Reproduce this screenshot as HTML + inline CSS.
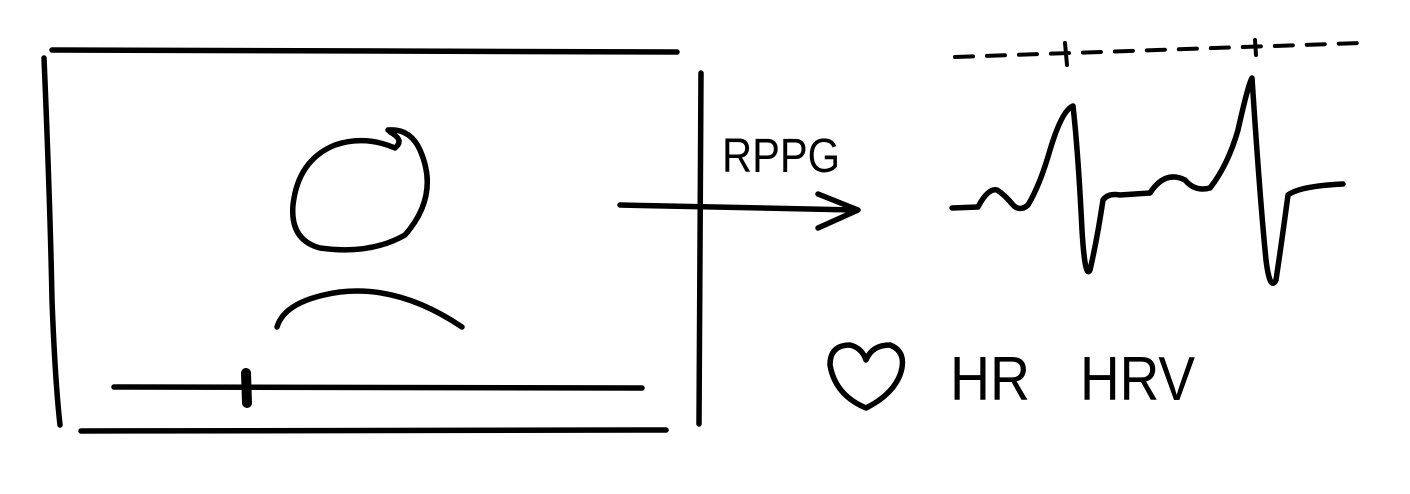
<!DOCTYPE html>
<html><head><meta charset="utf-8"><style>
html,body{margin:0;padding:0;background:#fff;width:1410px;height:494px;overflow:hidden}
svg{display:block}
text{font-family:"Liberation Sans",sans-serif;fill:#000}
</style></head><body>
<svg width="1410" height="494" viewBox="0 0 1410 494">
<g fill="none" stroke="#000" stroke-width="5.5" stroke-linecap="round" stroke-linejoin="round">
  <g>
    <path d="M52 50 L677 52"/>
    <path d="M44 58 Q50 200 52 300 Q55 380 60 425"/>
    <path d="M81 431 L666 430"/>
  </g>
  <path d="M701 73 L699 424"/>
  <g>
    <path d="M114 387 L642 388"/>
    <path d="M246 373 L247 403" stroke-width="10"/>
  </g>
  <g>
    <path d="M388 130 Q410 128 420 150 Q440 195 405 235 Q370 255 320 248 Q290 240 293 205 Q298 160 335 145 Q365 135 395 148 Q405 140 390 132"/>
    <path d="M277 327 Q285 300 340 292 Q400 285 462 327"/>
  </g>
  <g>
    <path d="M620 205 L855 210"/>
    <path d="M818 194 L858 210 L818 228"/>
  </g>
  <g stroke-width="4">
    <path d="M955 57 L1360 43" stroke-dasharray="18 14"/>
    <path d="M1065 43 L1067 65"/>
    <path d="M1255 40 L1256 55"/>
  </g>
  <path d="M952 208 L978 207 Q988 188 997 190 Q1005 195 1013 205 Q1020 212 1028 205 Q1040 185 1050 150 Q1062 110 1073 106 Q1078 150 1082 230 Q1085 280 1090 270 Q1097 240 1103 200 Q1108 193 1120 195 L1150 193 Q1165 170 1185 180 Q1195 192 1210 188 Q1228 165 1238 130 Q1248 85 1252 78 Q1260 200 1266 260 Q1270 292 1276 280 Q1282 240 1288 195 Q1300 186 1343 184"/>
  <path d="M866 408 Q835 395 830 365 Q830 345 850 345 Q862 348 866 360 Q872 345 890 345 Q908 352 900 375 Q892 395 866 408 Z"/>
</g>
<text x="722" y="172" font-size="48" textLength="118" lengthAdjust="spacingAndGlyphs">RPPG</text>
<text x="950" y="400" font-size="62" textLength="80" lengthAdjust="spacingAndGlyphs">HR</text>
<text x="1080" y="400" font-size="62" textLength="115" lengthAdjust="spacingAndGlyphs">HRV</text>
</svg>
</body></html>
